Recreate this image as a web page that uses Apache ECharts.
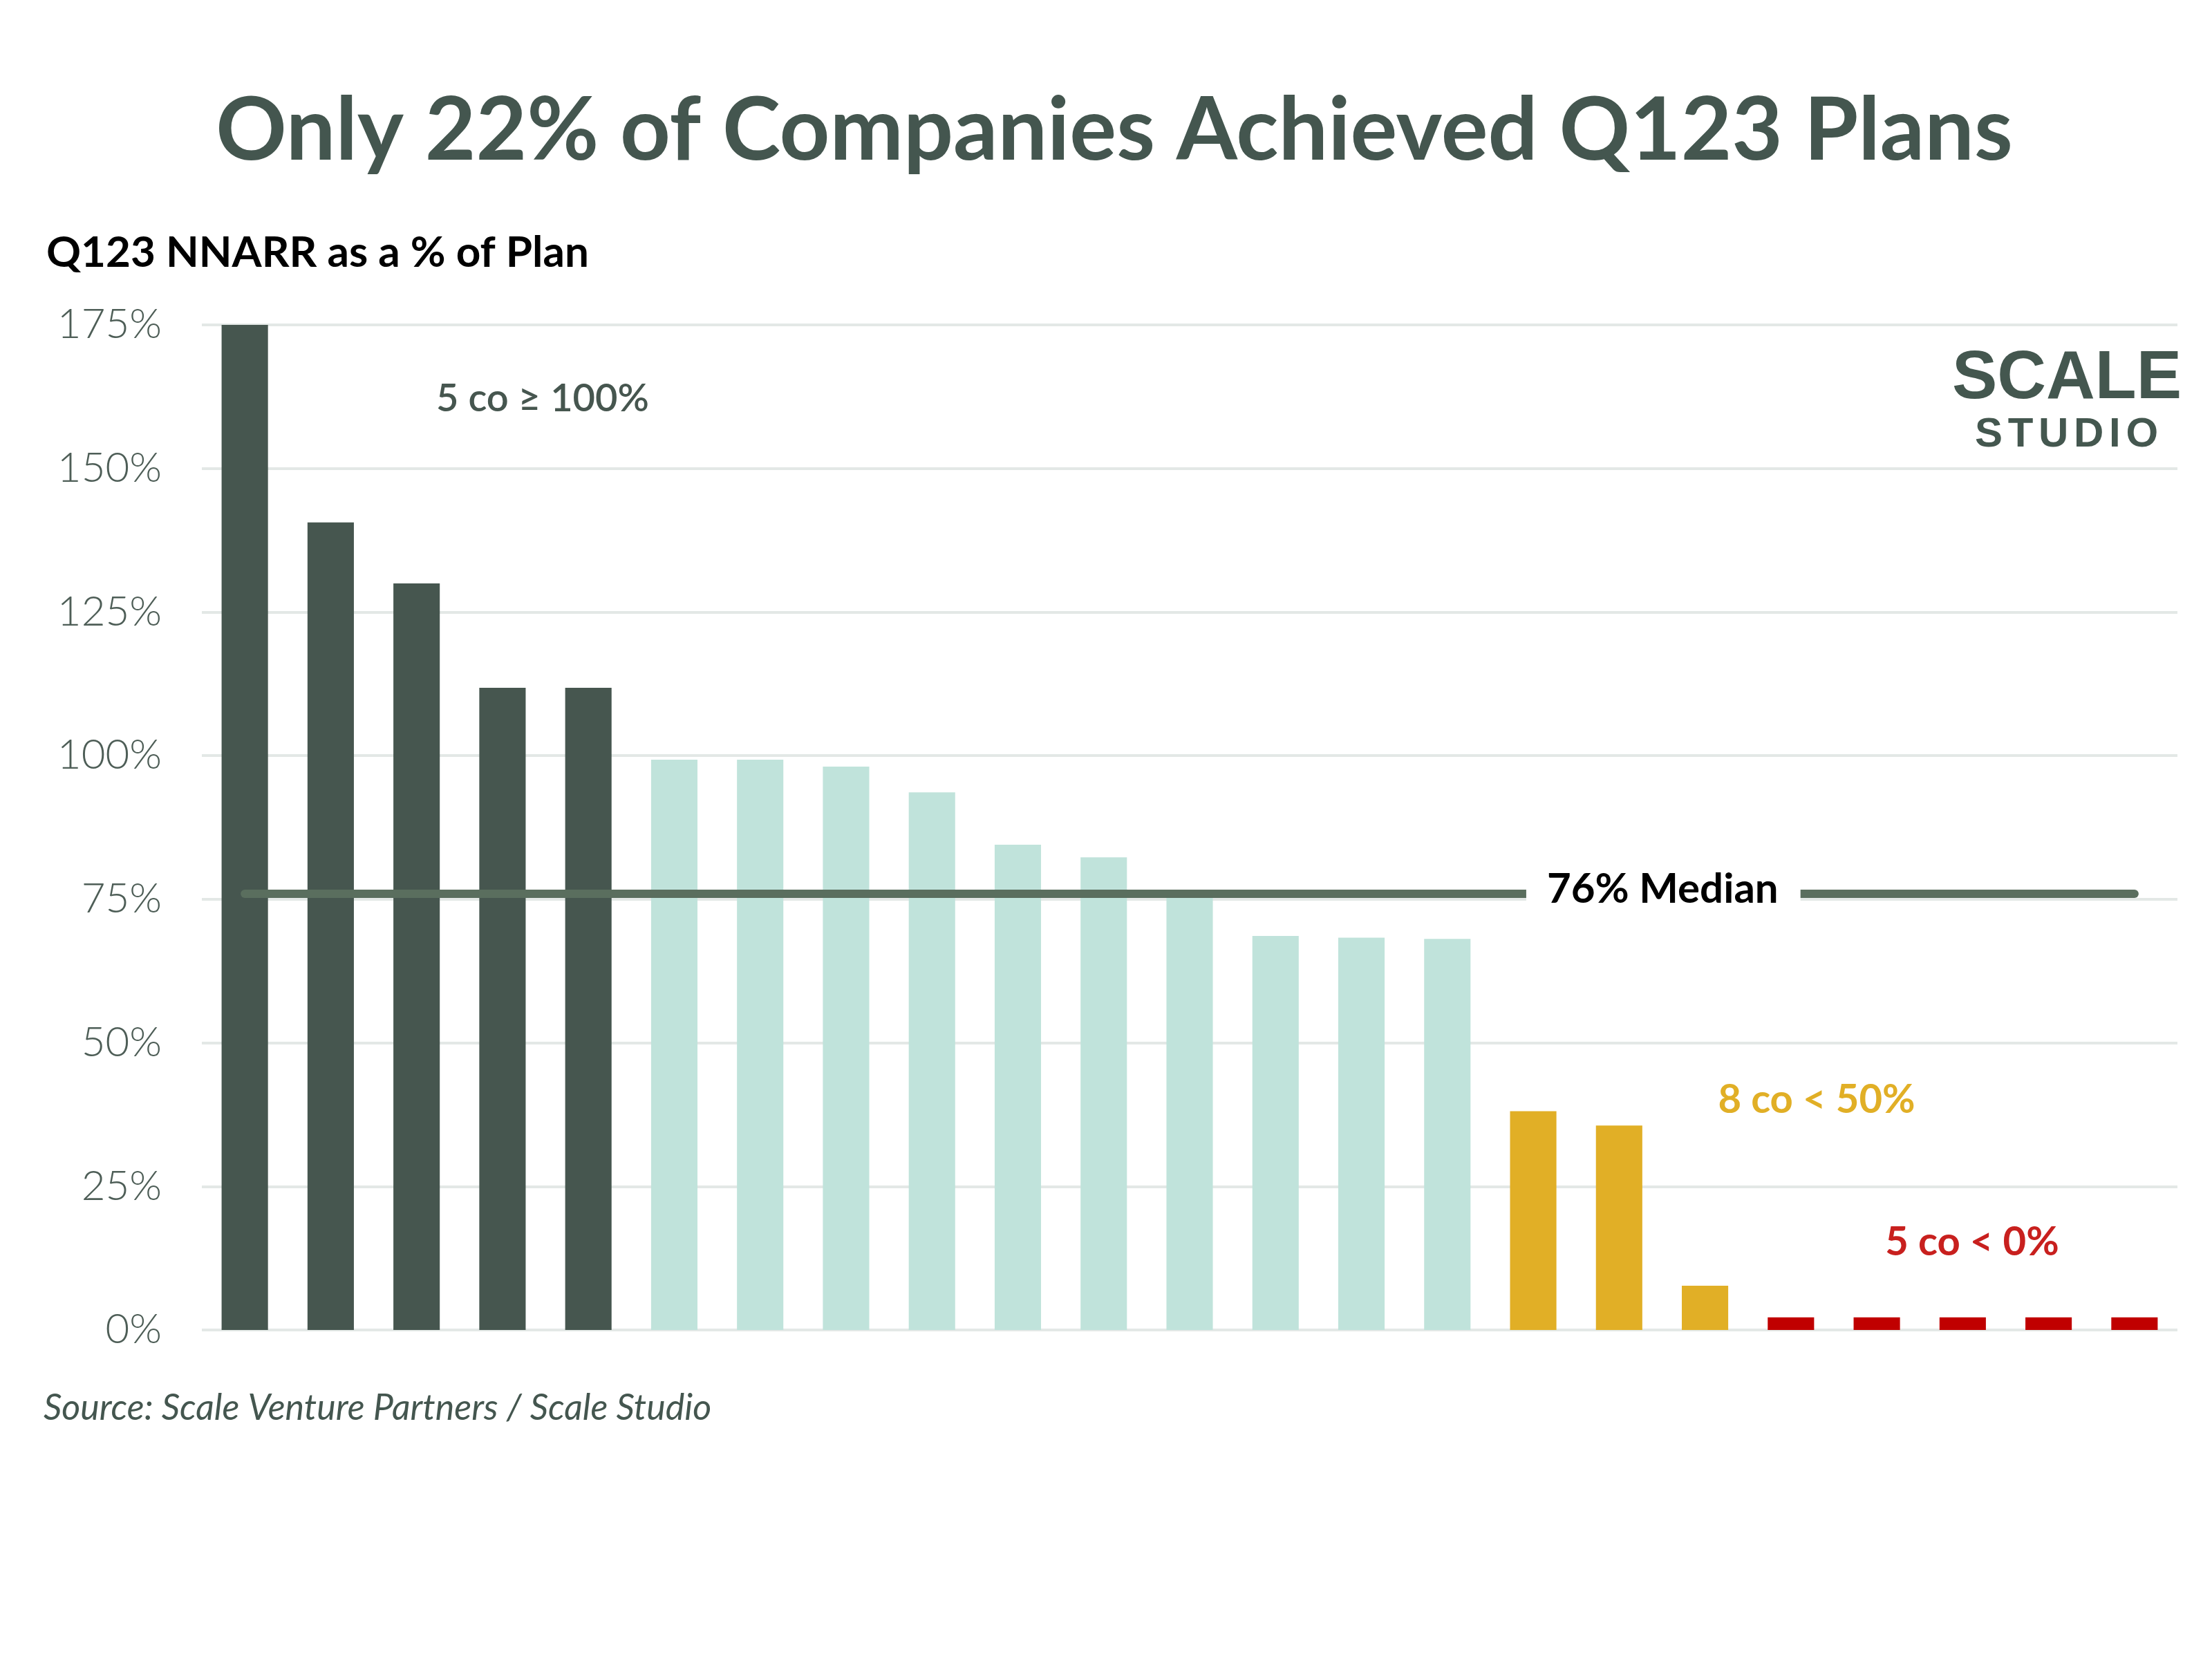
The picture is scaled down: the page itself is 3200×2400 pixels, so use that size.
<!DOCTYPE html>
<html>
<head>
<meta charset="utf-8">
<script src="https://cdn.jsdelivr.net/npm/echarts@6/dist/echarts.min.js"></script>
<style>html,body{margin:0;padding:0;background:#fff}#chart{width:3200px;height:2400px}</style>
</head>
<body>
<div id="chart"></div>
<script>
// ---- data ----
const companies = ['C1','C2','C3','C4','C5','C6','C7','C8','C9','C10','C11','C12','C13','C14','C15','C16','C17','C18','C19','C20','C21','C22','C23'];
const planPct = [175, 140.6, 130, 111.8, 111.8, 99.3, 99.3, 98.1, 93.6, 84.5, 82.3, 76, 68.6, 68.3, 68.1, 38.1, 35.6, 7.7, 2.2, 2.2, 2.2, 2.2, 2.2];
const groups = ['hit','hit','hit','hit','hit','mid','mid','mid','mid','mid','mid','mid','mid','mid','mid','low','low','low','neg','neg','neg','neg','neg'];
const medianValue = 76;
const yTicks = [0, 25, 50, 75, 100, 125, 150, 175];

const groupColors = { hit: '#46564F', mid: '#C0E3DB', low: '#E1AF26', neg: '#C00000' };

// logo sub-word letters (spaced)
const studioLetters = ['S', 'T', 'U', 'D', 'I', 'O'];
const studioWidths = [40, 36.7, 43.3, 43.3, 16.7, 46.7];
const studioGraphics = [];
let sx = 2857;
studioLetters.forEach((ch, i) => {
  studioGraphics.push({ type: 'text', x: sx, y: 629,
    style: { text: ch, font: 'bold 60px "Liberation Sans"', fill: '#44574F', textVerticalAlign: 'middle' } });
  sx += studioWidths[i] + 7.7;
});

const chart = echarts.init(document.getElementById('chart'));
chart.setOption({
  backgroundColor: '#ffffff',
  animation: false,
  grid: { left: 292, right: 50, top: 470, bottom: 476 },
  xAxis: {
    type: 'category',
    data: companies,
    axisLine: { show: false },
    axisTick: { show: false },
    axisLabel: { show: false }
  },
  yAxis: {
    type: 'value',
    min: yTicks[0],
    max: yTicks[yTicks.length - 1],
    interval: 25,
    axisLine: { show: false },
    axisTick: { show: false },
    axisLabel: {
      formatter: '{value}%',
      fontFamily: 'Lato',
      fontWeight: 300,
      fontSize: 60,
      color: '#4E5E57',
      margin: 58
    },
    splitLine: { lineStyle: { color: '#E3E8E6', width: 4 } }
  },
  series: [{
    type: 'bar',
    barWidth: '54%',
    data: planPct.map((v, i) => ({ value: v, itemStyle: { color: groupColors[groups[i]] } })),
    markLine: {
      silent: true,
      symbol: ['none', 'none'],
      z: 5,
      lineStyle: { color: '#5A6E5E', width: 12, type: 'solid', cap: 'round' },
      label: { show: false },
      data: [[{ coord: [companies[0], medianValue] }, { coord: [companies[companies.length - 1], medianValue] }]]
    },
    markPoint: {
      silent: true,
      z: 10,
      symbol: 'rect',
      symbolSize: [1, 1],
      itemStyle: { color: 'rgba(0,0,0,0)' },
      label: {
        show: true,
        position: 'inside',
        offset: [64, -6],
        formatter: medianValue + '% Median',
        fontFamily: 'Lato',
        fontWeight: 'bold',
        fontSize: 60,
        color: '#000000',
        backgroundColor: '#ffffff',
        padding: [4, 32, 4, 30]
      },
      data: [{ coord: [companies[16], medianValue] }]
    }
  }],
  graphic: [
    { type: 'text', x: 1612, y: 190,
      style: { text: 'Only 22% of Companies Achieved Q123 Plans', font: 'bold 127px Lato', fill: '#44564F', textAlign: 'center', textVerticalAlign: 'middle' } },
    { type: 'text', x: 67, y: 366,
      style: { text: 'Q123 NNARR as a % of Plan', font: 'bold 62px Lato', fill: '#000000', textVerticalAlign: 'middle' } },
    { type: 'text', x: 785, y: 577,
      style: { text: '5 co \u2265 100%', font: '600 56px Lato', fill: '#46564F', textAlign: 'center', textVerticalAlign: 'middle' } },
    { type: 'text', x: 2628, y: 1591,
      style: { text: '8 co < 50%', font: 'bold 58px Lato', fill: '#E1AF26', textAlign: 'center', textVerticalAlign: 'middle' } },
    { type: 'text', x: 2853, y: 1797,
      style: { text: '5 co < 0%', font: 'bold 58px Lato', fill: '#C8201E', textAlign: 'center', textVerticalAlign: 'middle' } },
    { type: 'text', x: 2990, y: 549,
      style: { text: 'SCALE', font: 'bold 98px "Liberation Sans"', fill: '#44574F', textAlign: 'center', textVerticalAlign: 'middle' } },
    ...studioGraphics,
    { type: 'text', x: 63, y: 2037,
      style: { text: 'Source: Scale Venture Partners / Scale Studio', font: 'italic 52px Lato', fill: '#44564F', textVerticalAlign: 'middle' } }
  ]
});
</script>
</body>
</html>
